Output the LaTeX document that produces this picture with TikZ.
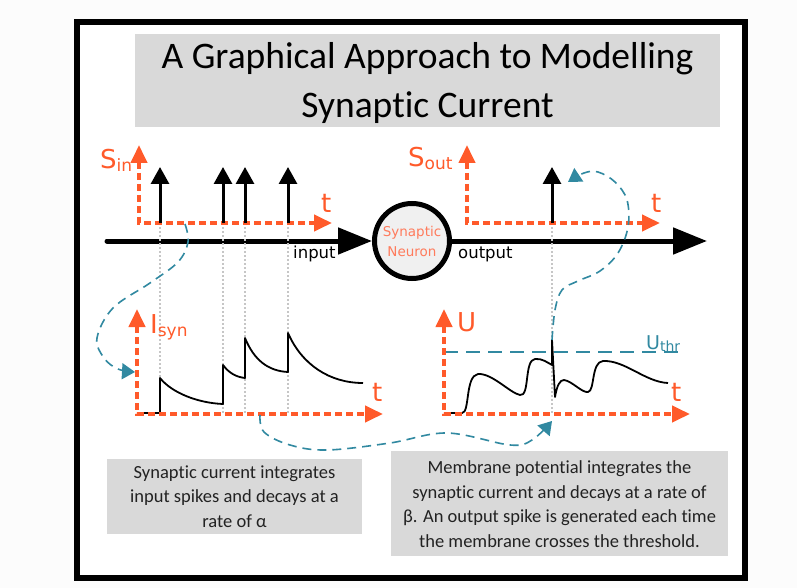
\documentclass[tikz,border=0pt]{standalone}
\usepackage{fontspec}
\setmainfont{Carlito}[Ligatures=NoCommon]
\newfontfamily\labfont{DejaVu Sans}
\usetikzlibrary{arrows.meta}
\definecolor{orng}{HTML}{FF5A2A}
\definecolor{lorng}{HTML}{FF7B5C}
\definecolor{tealc}{HTML}{3189A1}
\definecolor{boxgray}{HTML}{D9D9D9}
\definecolor{bgc}{HTML}{FCFCFC}
\definecolor{neurfill}{HTML}{F0F0F0}
\definecolor{txtc}{HTML}{222222}
\newcommand{\mylbl}[2]{{\fontsize{26}{26}\selectfont #1}\raisebox{-3pt}{\fontsize{17}{17}\selectfont #2}}
\begin{document}
\begin{tikzpicture}[x=1pt,y=-1pt,
  oaxis/.style={draw=orng, line width=4pt, dash pattern=on 7pt off 4pt,
    {Triangle[length=18pt,width=16pt]}-{Triangle[length=18pt,width=16pt]}},
  spikearrow/.style={draw=black, line width=3pt, -{Triangle[length=17pt,width=18pt]}},
  mainaxis/.style={draw=black, line width=5pt, line cap=round, -{Triangle[length=34pt,width=26pt]}},
  tealarrow/.style={draw=tealc, line width=1.6pt, dash pattern=on 9pt off 6pt,
    -{Triangle[length=13pt,width=16pt]}},
  guide/.style={draw=gray!45, line width=1.2pt, dash pattern=on 2pt off 2pt},
  curve/.style={draw=black, line width=1.8pt, line join=round},
  graybox/.style={fill=boxgray, draw=none, inner sep=0pt},
  boxtext/.style={text=txtc, align=center, font=\fontsize{18.5}{24.5}\selectfont},
  axlabel/.style={text=orng, font=\labfont, inner sep=0pt},
  smalllab/.style={text=black, font=\labfont\fontsize{16.5}{16.5}\selectfont, inner sep=0pt}
]
\useasboundingbox (0,0) rectangle (797,588);
\fill[bgc] (0,0) rectangle (797,588);
\draw[line width=6pt, fill=white] (77,22) rectangle (745,578);

% title
\node[graybox, minimum width=585pt, minimum height=93pt] (titlebox) at (427.5,80.5) {};
\node[align=center, font=\fontsize{37.5}{49}\selectfont] (title) at (427.5,83) {A Graphical Approach to Modelling\\Synaptic Current};

% neuron and main axis
\node[circle, draw=black, line width=5pt, fill=neurfill, minimum size=75pt, inner sep=0pt,
  text=lorng, align=center, font=\labfont\fontsize{13.5}{20}\selectfont] (neuron) at (412,241) {Synaptic\\Neuron};
\coordinate (inL) at (107,241);
\coordinate (outR) at (707,241);
\draw[mainaxis] (inL) -- (neuron.west);
\draw[mainaxis] (neuron.east) -- (outR);
\node[smalllab, anchor=base west] (inputlab) at (293,258) {input};
\node[smalllab, anchor=base west] (outputlab) at (458,258) {output};

% guides
\foreach \gx in {160,223,245,288,552}{
  \draw[guide] (\gx,223) -- (\gx,413);
}

% S_in axis
\coordinate (sinT) at (139,145);
\coordinate (sinO) at (139,223);
\coordinate (sinR) at (332,223);
\draw[oaxis] (sinT) -- (sinO) -- (sinR);
\node[axlabel, anchor=base west] (sinlab) at (100,168) {\mylbl{S}{in}};
\node[axlabel, anchor=base west, font=\labfont\fontsize{26}{26}\selectfont] (tin) at (321,212) {t};
\foreach \sx in {160,223,245,288}{
  \draw[spikearrow] (\sx,223) -- (\sx,167);
}

% S_out axis
\coordinate (soutT) at (467,145);
\coordinate (soutO) at (467,223);
\coordinate (soutR) at (660,223);
\draw[oaxis] (soutT) -- (soutO) -- (soutR);
\node[axlabel, anchor=base west] (soutlab) at (408,167) {\mylbl{S}{out}};
\node[axlabel, anchor=base west, font=\labfont\fontsize{26}{26}\selectfont] (tout) at (651,212) {t};
\draw[spikearrow] (552,223) -- (552,167);

% I_syn plot
\coordinate (isT) at (137,309);
\coordinate (isO) at (137,414);
\coordinate (isR) at (383,414);
\draw[curve] (137,413) -- (160,413) -- (160,378)
  .. controls (172,393) and (198,403) .. (223,404) -- (223,365)
  .. controls (229,373) and (236,377) .. (245,378) -- (245,338)
  .. controls (254,360) and (268,371) .. (288,372) -- (288,333)
  .. controls (302,365) and (330,383) .. (363,383);
\draw[oaxis] (isT) -- (isO) -- (isR);
\node[axlabel, anchor=base west] (islab) at (150,333) {\mylbl{I}{syn}};
\node[axlabel, anchor=base west, font=\labfont\fontsize{26}{26}\selectfont] (tis) at (372,401) {t};

% U plot
\coordinate (uT) at (444,309);
\coordinate (uO) at (444,414);
\coordinate (uR) at (690,414);
\coordinate (thrL) at (444,352);
\coordinate (thrR) at (682,352);
\draw[draw=tealc, line width=1.8pt, dash pattern=on 14pt off 8pt] (thrL) -- (thrR);
\draw[curve] (444,413) -- (462,413)
  .. controls (470,413) and (465,376) .. (478,374)
  .. controls (492,373) and (510,393) .. (520,395)
  .. controls (530,397) and (524,360) .. (535,359)
  .. controls (542,358) and (548,363) .. (552,365) -- (552,340) -- (555,397)
  .. controls (557,385) and (560,380) .. (564,380)
  .. controls (572,381) and (582,393) .. (588,392)
  .. controls (595,391) and (591,362) .. (603,361)
  .. controls (625,360) and (645,382) .. (668,383);
\draw[oaxis] (uT) -- (uO) -- (uR);
\node[axlabel, anchor=base west] (ulab) at (457,331) {{\fontsize{26}{26}\selectfont U}};
\node[axlabel, anchor=base west, font=\labfont\fontsize{26}{26}\selectfont] (tu) at (671,401) {t};
\node[axlabel, text=tealc, anchor=base west] (thrlab) at (646,349) {{\fontsize{19}{19}\selectfont U}\raisebox{-2pt}{\fontsize{14}{14}\selectfont thr}};

% teal connectors
\draw[tealarrow] plot[smooth, tension=0.6] coordinates {(185,224) (188,242) (178,262) (150,283) (113,308) (97,338) (104,358) (118,369) (135,372)};
\draw[tealarrow] plot[smooth, tension=0.6] coordinates {(260,415) (264,432) (290,445) (327,450) (390,443) (447,433) (510,445) (532,440) (552,421)};
\draw[tealarrow] plot[smooth, tension=0.6] coordinates {(552,340) (555,310) (562,290) (578,281) (600,271) (618,253) (628,227) (627,200) (615,182) (598,172) (584,173) (568,182)};

% text boxes
\node[graybox, minimum width=255pt, minimum height=75pt] (box1) at (234.5,496.5) {};
\node[boxtext] (text1) at (234.5,496.5) {Synaptic current integrates\\input spikes and decays at a\\rate of α};
\node[graybox, minimum width=337pt, minimum height=105pt] (box2) at (559.5,503.5) {};
\node[boxtext] (text2) at (559.5,504) {Membrane potential integrates the\\synaptic current and decays at a rate of\\β. An output spike is generated each time\\the membrane crosses the threshold.};
\end{tikzpicture}
\end{document}
